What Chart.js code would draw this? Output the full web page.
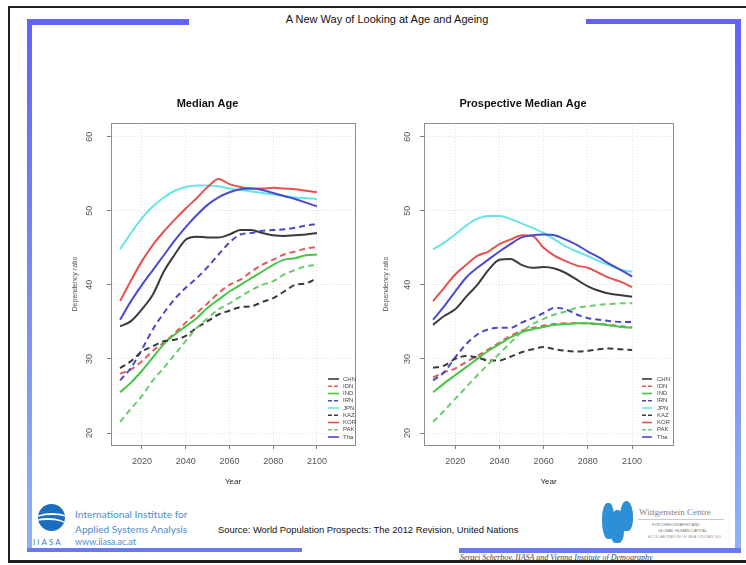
<!DOCTYPE html>
<html>
<head>
<meta charset="utf-8">
<script src="https://cdn.jsdelivr.net/npm/chart.js@4.4.1/dist/chart.umd.min.js"></script>
<style>
html,body{margin:0;padding:0;background:#fff;}
body{width:746px;height:565px;position:relative;overflow:hidden;font-family:"Liberation Sans",Arial,sans-serif;}
.a{position:absolute;}
.bar{position:absolute;background:#6262fa;}
.vbar{position:absolute;background:linear-gradient(#6262fa,#8fb3f5);}
</style>
</head>
<body>
<script>
// ---------- DATA ----------
const years = [2010,2015,2020,2025,2030,2035,2040,2045,2050,2055,2060,2065,2070,2075,2080,2085,2090,2095,2100];
const countries = ['CHN','IDN','IND','IRN','JPN','KAZ','KOR','PAK','Tha'];
const yTickValues = [20,30,40,50,60];
const xTickValues = [2020,2040,2060,2080,2100];

// Median Age
const medianCHN = [34.4,35.1,36.7,38.7,41.8,44.1,46.1,46.5,46.4,46.4,46.8,47.4,47.4,47.0,46.7,46.6,46.7,46.8,47.0];
const medianIDN = [28.0,28.6,29.7,31.1,32.2,33.5,34.9,36.2,37.5,38.9,40.0,40.7,41.8,42.7,43.4,44.1,44.5,44.9,45.1];
const medianIND = [25.5,26.8,28.4,30.2,32.0,33.3,34.4,35.5,36.9,38.0,39.1,40.0,40.9,41.8,42.7,43.4,43.6,44.0,44.1];
const medianIRN = [27.1,28.8,31.3,34.0,36.2,38.1,39.6,40.9,42.4,44.1,45.7,46.8,47.0,47.3,47.4,47.5,47.7,48.0,48.2];
const medianJPN = [44.8,47.0,49.0,50.6,51.8,52.7,53.2,53.4,53.4,53.3,53.0,52.8,52.6,52.4,52.2,52.0,51.8,51.7,51.6];
const medianKAZ = [28.75,29.7,31.0,31.7,32.4,32.6,33.1,34.2,35.1,36.0,36.5,37.0,37.1,37.7,38.2,39.1,40.0,40.2,40.9];
const medianKOR = [37.8,40.6,43.2,45.4,47.2,48.8,50.3,51.7,53.2,54.3,53.6,53.2,53.0,53.0,53.1,53.0,52.9,52.7,52.5];
const medianPAK = [21.5,23.3,25.0,27.1,28.8,30.6,32.4,34.2,35.5,36.7,37.5,38.4,39.3,40.0,40.5,41.4,42.0,42.5,42.7];
const medianTHA = [35.3,37.8,40.0,42.0,44.0,46.0,47.8,49.4,50.8,51.8,52.5,52.9,53.0,52.8,52.4,52.0,51.6,51.1,50.6];

// Prospective Median Age
const prospCHN = [34.6,35.8,36.7,38.4,40.0,42.0,43.4,43.5,42.7,42.3,42.4,42.2,41.6,40.7,39.8,39.2,38.8,38.6,38.4];
const prospIDN = [27.5,28.2,28.7,29.6,30.4,31.3,32.2,33.1,33.8,34.2,34.5,34.7,34.8,34.8,34.8,34.7,34.6,34.4,34.3];
const prospIND = [25.5,26.7,27.8,28.9,30.0,31.1,32.0,32.9,33.6,34.0,34.3,34.6,34.7,34.8,34.8,34.7,34.5,34.3,34.2];
const prospIRN = [27.1,28.2,30.2,32.0,33.3,34.0,34.2,34.2,34.9,35.5,36.2,36.9,36.7,36.0,35.5,35.3,35.1,35.0,35.0];
const prospJPN = [44.8,45.7,46.8,48.0,48.9,49.3,49.3,48.9,48.3,47.7,47.0,46.1,45.2,44.5,43.9,43.2,42.6,42.0,41.8];
const prospKAZ = [28.8,29.1,30.0,30.4,30.2,29.8,29.8,30.3,30.9,31.3,31.6,31.3,31.1,31.0,31.1,31.3,31.4,31.3,31.2];
const prospKOR = [37.8,39.6,41.4,42.7,43.9,44.5,45.5,46.1,46.7,46.6,45.0,43.9,43.2,42.6,42.3,41.6,40.9,40.4,39.7];
const prospPAK = [21.5,23.0,24.6,26.2,27.8,29.3,30.7,32.2,33.6,34.7,35.4,36.0,36.4,36.9,37.1,37.3,37.4,37.5,37.5];
const prospTHA = [35.3,37.1,39.1,41.0,42.3,43.4,44.5,45.5,46.4,46.7,46.8,46.7,46.1,45.4,44.5,43.7,42.8,42.0,41.1];

const medianSeries = [medianCHN,medianIDN,medianIND,medianIRN,medianJPN,medianKAZ,medianKOR,medianPAK,medianTHA];
const prospSeries  = [prospCHN,prospIDN,prospIND,prospIRN,prospJPN,prospKAZ,prospKOR,prospPAK,prospTHA];
</script>

<!-- slide frame and decorations -->
<div class="a" style="left:8px;top:6px;width:760px;height:552px;border-left:2px solid #1e1e1e;border-top:2px solid #1e1e1e;border-bottom:3px solid #1e1e1e;z-index:5;"></div>
<div class="bar" style="left:27px;top:19px;width:162px;height:6px;"></div>
<div class="vbar" style="left:27px;top:19px;width:5px;height:533px;"></div>
<div class="bar" style="left:586px;top:19px;width:155px;height:5px;"></div>
<div class="vbar" style="left:735px;top:19px;width:6px;height:531px;"></div>
<div class="bar" style="left:27px;top:548px;width:275px;height:4px;background:#6a78f0;"></div>
<div class="bar" style="left:459px;top:548px;width:282px;height:5px;background:#6a78f0;"></div>

<div class="a" style="left:230px;top:13px;width:314px;text-align:center;font-size:11px;color:#111;">A New Way of Looking at Age and Ageing</div>

<!-- IIASA logo -->
<div class="a" style="left:38px;top:504px;width:27px;height:27px;border-radius:50%;background:#1c6cc0;overflow:hidden;">
  <div class="a" style="left:-4px;top:9px;width:36px;height:12px;border-top:2px solid #fff;border-radius:50%;"></div>
  <div class="a" style="left:-8px;top:14px;width:36px;height:12px;border-top:2px solid #fff;border-radius:50%;"></div>
</div>
<div class="a" style="left:75px;top:508px;font-family:Lato,'Open Sans',sans-serif;font-size:10.2px;color:#4a8dd0;white-space:nowrap;">International Institute for</div>
<div class="a" style="left:75px;top:523px;font-family:Lato,'Open Sans',sans-serif;font-size:10.2px;color:#4a8dd0;white-space:nowrap;">Applied Systems Analysis</div>
<div class="a" style="left:33px;top:537px;font-family:Lato,'Open Sans',sans-serif;font-size:8px;color:#3f82c8;letter-spacing:2px;white-space:nowrap;">IIASA</div>
<div class="a" style="left:75px;top:536px;font-family:Lato,'Open Sans',sans-serif;font-size:9px;color:#4a8dd0;white-space:nowrap;">www.iiasa.ac.at</div>

<div class="a" style="left:218px;top:524px;font-size:9.4px;color:#111;white-space:nowrap;">Source: World Population Prospects: The 2012 Revision, United Nations</div>

<!-- Wittgenstein logo -->
<div class="a" style="left:602px;top:503px;width:12px;height:36px;background:#2e8fd6;border-radius:45% 40% 30% 50%;"></div>
<div class="a" style="left:610px;top:510px;width:14px;height:33px;background:#2e8fd6;border-radius:50% 45% 35% 40%;"></div>
<div class="a" style="left:620px;top:501px;width:13px;height:30px;background:#2e8fd6;border-radius:50% 50% 40% 30%;"></div>
<div class="a" style="left:639px;top:507px;font-family:'Liberation Serif',serif;font-size:9px;color:#808080;white-space:nowrap;">Wittgenstein Centre</div>
<div class="a" style="left:638px;top:519px;width:86px;height:1px;background:#c8c8d8;"></div>
<div class="a" style="left:652px;top:522px;font-size:4px;color:#777;white-space:nowrap;">FOR DEMOGRAPHY AND</div>
<div class="a" style="left:658px;top:528px;font-size:4px;color:#777;white-space:nowrap;">GLOBAL HUMAN CAPITAL</div>
<div class="a" style="left:648px;top:535px;font-size:3.5px;color:#999;white-space:nowrap;">A COLLABORATION OF IIASA, VID/ÖAW, WU</div>

<div class="a" style="left:460px;top:553px;font-family:'Liberation Serif',serif;font-style:italic;font-size:8px;color:#444;white-space:nowrap;">Sergei Scherbov, IIASA  and Vienna Institute of Demography</div>

<canvas id="c1" class="a" width="310" height="405" style="left:60px;top:88px;width:310px;height:405px;"></canvas>
<canvas id="c2" class="a" width="315" height="405" style="left:373px;top:88px;width:315px;height:405px;"></canvas>

<script>
const FONT = '"Liberation Sans", Arial, sans-serif';
const lineColors = ['#3a3a3a','#e65a5c','#46c646','#4848c8','#66e4ea','#3a3a3a','#e85050','#6ccc6c','#4a4ad4'];
const dashed     = [false,true,false,true,false,true,false,true,false];

const framePlugin = {
  id: 'frameBox',
  afterDatasetsDraw(chart) {
    const {ctx, chartArea: a} = chart;
    ctx.save();
    ctx.strokeStyle = '#8e8e8e';
    ctx.lineWidth = 1;
    ctx.strokeRect(Math.round(a.left) + 0.5, Math.round(a.top) + 0.5, Math.round(a.right - a.left), Math.round(a.bottom - a.top));
    ctx.restore();
  }
};

const yLabelPlugin = {
  id: 'rotYLabels',
  afterDraw(chart, args, o) {
    const {ctx, chartArea: a} = chart;
    const s = chart.scales.y;
    ctx.save();
    ctx.font = '9px ' + FONT;
    ctx.fillStyle = '#555';
    ctx.textAlign = 'center';
    ctx.textBaseline = 'middle';
    s.ticks.forEach(t => {
      const y = s.getPixelForValue(t.value);
      ctx.save();
      ctx.translate(a.left - o.offset, y);
      ctx.rotate(-Math.PI / 2);
      ctx.fillText(String(t.value), 0, 0);
      ctx.restore();
    });
    ctx.restore();
  }
};

const legendPlugin = {
  id: 'lineLegend',
  afterDraw(chart, args, o) {
    const {ctx, chartArea: a} = chart;
    ctx.save();
    ctx.font = '6px ' + FONT;
    ctx.textBaseline = 'middle';
    ctx.textAlign = 'left';
    chart.data.datasets.forEach((d, i) => {
      const y = a.bottom - o.firstFromBottom + i * o.step;
      ctx.strokeStyle = d.borderColor;
      ctx.lineWidth = 1.6;
      ctx.setLineDash(d.borderDash && d.borderDash.length ? [4, 2] : []);
      ctx.beginPath();
      ctx.moveTo(a.right - o.lineStart, y);
      ctx.lineTo(a.right - o.lineEnd, y);
      ctx.stroke();
      ctx.setLineDash([]);
      ctx.fillStyle = '#444';
      ctx.fillText(d.label, a.right - o.textX, y);
    });
    ctx.restore();
  }
};

function makeChart(id, title, series, cfg) {
  const datasets = countries.map((c, i) => ({
    label: c,
    data: years.map((yr, k) => ({x: yr, y: series[i][k]})),
    borderColor: lineColors[i],
    backgroundColor: lineColors[i],
    borderWidth: 2,
    borderDash: dashed[i] ? [6, 4] : [],
    pointRadius: 0,
    cubicInterpolationMode: 'monotone',
    fill: false,
    order: countries.length - i
  }));
  return new Chart(document.getElementById(id), {
    type: 'line',
    data: {datasets},
    plugins: [framePlugin, yLabelPlugin, legendPlugin],
    options: {
      responsive: false,
      animation: false,
      devicePixelRatio: 1,
      layout: {padding: {left: 0, right: cfg.padRight, top: 0, bottom: 0}},
      plugins: {
        legend: {display: false},
        tooltip: {enabled: false},
        title: {display: true, text: title, color: '#111',
                font: {family: FONT, size: 11, weight: 'bold'},
                padding: {top: 9, bottom: 12.8}},
        rotYLabels: {offset: cfg.yLabelOffset},
        lineLegend: {firstFromBottom: 66, step: 7.25, lineStart: cfg.legLineStart, lineEnd: cfg.legLineEnd, textX: cfg.legTextX}
      },
      scales: {
        x: {
          type: 'linear', min: cfg.xMin, max: cfg.xMax,
          afterBuildTicks: s => { s.ticks = xTickValues.map(v => ({value: v})); },
          afterFit: s => { s.height = 48; },
          ticks: {color: '#555', font: {family: FONT, size: 9}, padding: 7, maxRotation: 0,
                  callback: v => String(v)},
          grid: {color: '#dedede', lineWidth: 1, drawTicks: true, tickLength: 4,
                 tickColor: '#7a7a7a', tickBorderDash: []},
          border: {display: false, dash: [1, 2]},
          title: {display: true, text: 'Year', color: '#222', font: {family: FONT, size: 8},
                  padding: {top: 0, bottom: 6.2}}
        },
        y: {
          type: 'linear', min: 18.38, max: 61.85,
          afterBuildTicks: s => { s.ticks = yTickValues.map(v => ({value: v})); },
          afterFit: s => { s.width = 51; },
          ticks: {display: false},
          grid: {color: '#dedede', lineWidth: 1, drawTicks: true, tickLength: 4,
                 tickColor: '#7a7a7a', tickBorderDash: []},
          border: {display: false, dash: [1, 2]},
          title: {display: true, text: 'Dependency ratio', color: '#555', font: {family: FONT, size: 7},
                  padding: {top: cfg.yTitlePad, bottom: 0}}
        }
      }
    }
  });
}

makeChart('c1', 'Median Age', medianSeries,
  {padRight: 15, xMin: 2005.85, xMax: 2117.4, yLabelOffset: 21, yTitlePad: 11,
   legLineStart: 27, legLineEnd: 16, legTextX: 12});
makeChart('c2', 'Prospective Median Age', prospSeries,
  {padRight: 15, xMin: 2005.9, xMax: 2118.5, yLabelOffset: 16, yTitlePad: 8.8,
   legLineStart: 31, legLineEnd: 21, legTextX: 16});
</script>
</body>
</html>
